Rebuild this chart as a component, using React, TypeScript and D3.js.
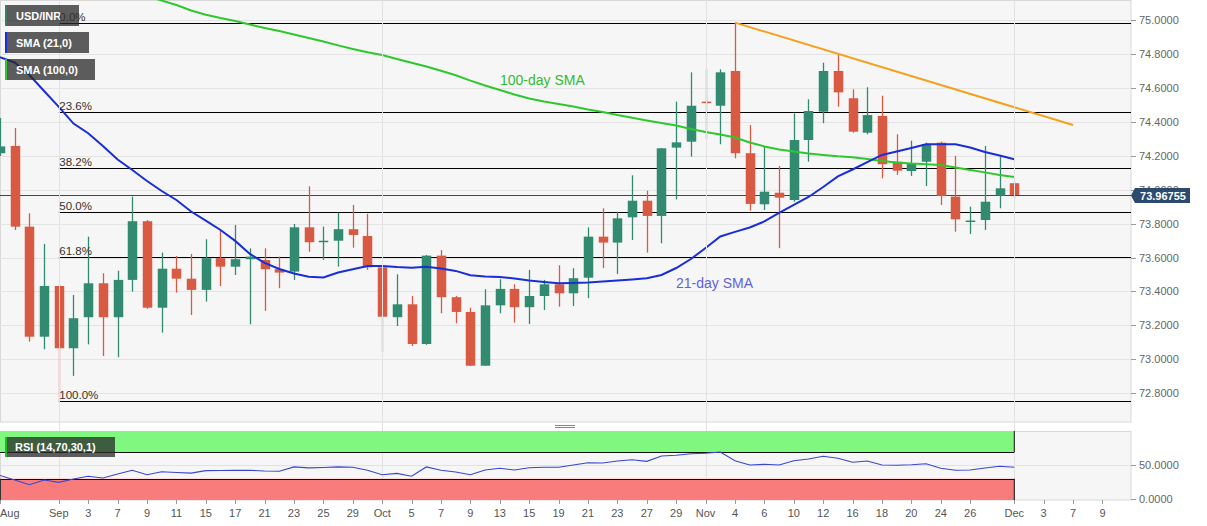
import React, { useEffect, useRef } from 'react';
import * as d3 from 'd3';

// USD/INR daily candles, 26 Aug 2020 .. 1 Dec 2020 (weekdays)
const opens = [74.215, 74.258, 73.782, 73.133, 73.432, 73.065, 73.248, 73.448, 73.248, 73.468,
    73.814, 73.304, 73.534, 73.475, 73.409, 73.596, 73.546, 73.590, 73.585, 73.531,
    73.517, 73.778, 73.690, 73.699, 73.767, 73.727, 73.542, 73.248, 73.324, 73.090,
    73.611, 73.366, 73.279, 72.962, 73.318, 73.415, 73.307, 73.373, 73.442, 73.389,
    73.481, 73.723, 73.688, 73.837, 73.935, 73.845, 74.248, 74.283, 74.519, 74.495,
    74.700, 74.215, 73.914, 73.982, 73.939, 74.293, 74.460, 74.700, 74.539, 74.336,
    74.435, 74.165, 74.110, 74.165, 74.277, 73.959, 73.810, 73.821, 73.965, 74.038];
const highs = [74.423, 74.364, 73.861, 73.680, 73.438, 73.379, 73.723, 73.507, 73.522, 73.959,
    73.821, 73.629, 73.609, 73.621, 73.708, 73.762, 73.792, 73.654, 73.654, 73.605,
    73.798, 74.020, 73.782, 73.864, 73.910, 73.857, 73.556, 73.501, 73.373, 73.615,
    73.644, 73.373, 73.304, 73.413, 73.472, 73.442, 73.527, 73.468, 73.554, 73.537,
    73.778, 73.890, 73.870, 74.085, 73.994, 74.246, 74.519, 74.692, 74.710, 74.710,
    74.985, 74.381, 74.258, 74.140, 74.450, 74.533, 74.749, 74.794, 74.592, 74.604,
    74.554, 74.327, 74.289, 74.277, 74.283, 74.200, 73.900, 74.258, 74.195, 74.047];
const lows = [74.199, 73.762, 73.104, 73.059, 72.754, 72.902, 73.088, 73.019, 73.012, 73.399,
    73.297, 73.157, 73.393, 73.261, 73.340, 73.432, 73.497, 73.206, 73.285, 73.419,
    73.468, 73.634, 73.586, 73.546, 73.658, 73.527, 73.045, 73.196, 73.078, 73.085,
    73.271, 73.212, 72.960, 72.960, 73.271, 73.216, 73.208, 73.291, 73.310, 73.314,
    73.360, 73.537, 73.503, 73.703, 73.629, 73.684, 73.943, 74.195, 74.297, 74.268,
    74.185, 73.876, 73.880, 73.655, 73.929, 74.165, 74.392, 74.489, 74.336, 74.327,
    74.067, 74.087, 74.081, 74.022, 73.910, 73.752, 73.739, 73.762, 73.890, 73.949];
const closes = [74.255, 73.782, 73.133, 73.432, 73.065, 73.242, 73.448, 73.248, 73.468, 73.814,
    73.304, 73.534, 73.475, 73.409, 73.596, 73.546, 73.590, 73.605, 73.531, 73.511,
    73.778, 73.690, 73.699, 73.767, 73.733, 73.542, 73.251, 73.324, 73.090, 73.611,
    73.366, 73.279, 72.962, 73.318, 73.415, 73.307, 73.373, 73.442, 73.389, 73.478,
    73.723, 73.688, 73.831, 73.935, 73.845, 74.244, 74.279, 74.495, 74.513, 74.692,
    74.215, 73.916, 73.988, 73.953, 74.293, 74.464, 74.700, 74.574, 74.342, 74.440,
    74.150, 74.112, 74.156, 74.268, 73.963, 73.825, 73.818, 73.929, 74.008, 73.968];

const sma21 = [74.781, 74.750, 74.676, 74.582, 74.488, 74.390, 74.333, 74.258, 74.178, 74.116,
    74.051, 73.992, 73.939, 73.871, 73.818, 73.762, 73.698, 73.621, 73.568, 73.532,
    73.506, 73.487, 73.482, 73.512, 73.531, 73.550, 73.550, 73.544, 73.540, 73.546,
    73.535, 73.521, 73.495, 73.488, 73.485, 73.476, 73.465, 73.456, 73.448, 73.450,
    73.452, 73.458, 73.464, 73.471, 73.478, 73.497, 73.538, 73.591, 73.656, 73.724,
    73.751, 73.777, 73.813, 73.863, 73.910, 73.957, 74.016, 74.078, 74.119, 74.163,
    74.205, 74.225, 74.246, 74.268, 74.268, 74.268, 74.249, 74.222, 74.202, 74.179];
const sma100 = [75.466, 75.434, 75.402, 75.366, 75.331, 75.295, 75.266, 75.233, 75.201, 75.172,
    75.142, 75.115, 75.089, 75.057, 75.032, 75.012, 74.995, 74.974, 74.953, 74.936,
    74.915, 74.894, 74.874, 74.851, 74.830, 74.810, 74.794, 74.771, 74.748, 74.726,
    74.701, 74.675, 74.643, 74.614, 74.588, 74.561, 74.538, 74.520, 74.505, 74.491,
    74.473, 74.458, 74.440, 74.424, 74.408, 74.393, 74.379, 74.358, 74.340, 74.325,
    74.308, 74.278, 74.255, 74.237, 74.225, 74.213, 74.205, 74.197, 74.191, 74.181,
    74.169, 74.160, 74.154, 74.150, 74.146, 74.131, 74.116, 74.102, 74.087, 74.075];
const rsi14 = [34.9, 28.2, 21.0, 28.2, 24.6, 29.7, 33.9, 31.3, 37.2, 42.7,
    36.0, 40.6, 39.4, 38.5, 42.3, 42.4, 42.6, 42.7, 41.7, 41.2,
    47.8, 46.3, 46.9, 47.8, 47.4, 42.7, 36.0, 38.1, 33.9, 47.8,
    42.7, 40.2, 36.0, 43.2, 45.9, 43.2, 46.5, 47.2, 47.4, 50.7,
    54.1, 53.7, 56.7, 58.5, 56.2, 64.2, 65.2, 67.6, 68.2, 70.2,
    57.1, 50.7, 51.7, 50.7, 57.1, 59.7, 63.7, 60.7, 54.7, 56.7,
    50.7, 50.2, 51.1, 52.6, 45.7, 42.7, 43.2, 46.2, 48.7, 47.2];

const xTickDates = ['2020-08-26', '2020-09-01', '2020-09-03', '2020-09-07', '2020-09-09', '2020-09-11',
    '2020-09-15', '2020-09-17', '2020-09-21', '2020-09-23', '2020-09-25', '2020-09-29', '2020-10-01',
    '2020-10-05', '2020-10-07', '2020-10-09', '2020-10-13', '2020-10-15', '2020-10-19', '2020-10-21',
    '2020-10-23', '2020-10-27', '2020-10-29', '2020-11-02', '2020-11-04', '2020-11-06', '2020-11-10',
    '2020-11-12', '2020-11-16', '2020-11-18', '2020-11-20', '2020-11-24', '2020-11-26', '2020-12-01',
    '2020-12-03', '2020-12-07', '2020-12-09'];
const xTickLabels = ['Aug', 'Sep', '3', '7', '9', '11', '15', '17', '21', '23', '25', '29', 'Oct',
    '5', '7', '9', '13', '15', '19', '21', '23', '27', '29', 'Nov', '4', '6', '10', '12', '16', '18',
    '20', '24', '26', 'Dec', '3', '7', '9'];
const monthStarts = ['2020-09-01', '2020-10-01', '2020-11-02', '2020-12-01'];

const fibRatios = [0, 0.236, 0.382, 0.5, 0.618, 1];
const fibLabels = ['0.0%', '23.6%', '38.2%', '50.0%', '61.8%', '100.0%'];
const fibHigh = 74.981;
const fibLow = 72.754;
const fibStart = '2020-09-01';

const trendDates = ['2020-11-04', '2020-12-07'];
const trendValues = [74.985, 74.381];
const lastPrice = 73.96755;

const W = 1207;
const H = 526;
const FONT = "'Liberation Sans', Arial, sans-serif";

export default function App() {
    const ref = useRef<SVGSVGElement>(null);

    useEffect(() => {
        const svg = d3.select(ref.current);
        svg.selectAll('*').remove();

        const fmt = d3.timeFormat('%Y-%m-%d');
        const days = d3.timeDay.range(new Date(2020, 7, 26), new Date(2020, 11, 12))
            .filter(d => d.getDay() !== 0 && d.getDay() !== 6)
            .map(fmt);
        const idx = (s: string) => days.indexOf(s);

        const plotR = 1131;
        const mainB = 422;
        const rsiT = 431;
        const rsiB = 500;

        const x = d3.scaleLinear().domain([0, 76.94]).range([0, plotR]);
        const y = d3.scaleLinear().domain([72.630, 75.1185]).range([mainB, 0]);
        const yr = d3.scaleLinear().domain([0, 100]).range([498.8, 432.1]);

        const defs = svg.append('defs');
        defs.append('clipPath').attr('id', 'clipMain')
            .append('rect').attr('x', 0).attr('y', 0).attr('width', plotR).attr('height', mainB);
        defs.append('clipPath').attr('id', 'clipRsi')
            .append('rect').attr('x', 0).attr('y', rsiT).attr('width', plotR).attr('height', rsiB - rsiT);

        // panels
        svg.append('rect').attr('x', 0.5).attr('y', 0.5).attr('width', plotR - 0.5).attr('height', mainB - 0.5)
            .attr('fill', '#f6f6f6').attr('stroke', '#d8d8d8');
        svg.append('rect').attr('x', 0.5).attr('y', rsiT + 0.5).attr('width', plotR - 0.5).attr('height', rsiB - rsiT - 0.5)
            .attr('fill', '#f6f6f6').attr('stroke', '#d8d8d8');

        const main = svg.append('g').attr('clip-path', 'url(#clipMain)');
        const priceTicks = y.ticks(12);

        main.selectAll('.hgrid').data(priceTicks).enter().append('line')
            .attr('x1', 0).attr('x2', plotR)
            .attr('y1', d => Math.round(y(d)) + 0.5).attr('y2', d => Math.round(y(d)) + 0.5)
            .attr('stroke', '#e4e4e4');

        svg.selectAll('.vgrid').data(monthStarts).enter().append('line')
            .attr('x1', d => Math.round(x(idx(d))) + 0.5).attr('x2', d => Math.round(x(idx(d))) + 0.5)
            .attr('y1', 0).attr('y2', rsiB)
            .attr('stroke', '#e2e2e2');

        // fibonacci retracement lines
        const fibVal = (r: number) => fibHigh - (fibHigh - fibLow) * r;
        main.selectAll('.fib').data(fibRatios).enter().append('line')
            .attr('x1', x(idx(fibStart))).attr('x2', plotR)
            .attr('y1', d => Math.round(y(fibVal(d))) + 0.5).attr('y2', d => Math.round(y(fibVal(d))) + 0.5)
            .attr('stroke', '#000').attr('stroke-width', 1.2);

        // last price line
        main.append('line').attr('x1', 0).attr('x2', plotR)
            .attr('y1', Math.round(y(lastPrice)) + 0.5).attr('y2', Math.round(y(lastPrice)) + 0.5)
            .attr('stroke', '#2c4a6b').attr('stroke-width', 1);

        // candles
        const bodyW = 9.5;
        const green = '#328a70';
        const red = '#d95a43';
        const candles = opens.map((o, i) => ({ i, o, h: highs[i], l: lows[i], c: closes[i] }));
        const cg = main.selectAll('.candle').data(candles).enter().append('g');
        cg.append('line')
            .attr('x1', d => Math.round(x(d.i)) + 0.5).attr('x2', d => Math.round(x(d.i)) + 0.5)
            .attr('y1', d => y(d.h)).attr('y2', d => y(d.l))
            .attr('stroke', d => (d.c >= d.o ? green : red)).attr('stroke-width', 1.3);
        cg.append('rect')
            .attr('x', d => Math.round(x(d.i)) + 0.5 - bodyW / 2)
            .attr('width', bodyW)
            .attr('y', d => y(Math.max(d.o, d.c)))
            .attr('height', d => Math.max(1.5, Math.abs(y(d.o) - y(d.c))))
            .attr('fill', d => (d.c >= d.o ? green : red));

        // moving averages
        const line = d3.line<number>().x((_, i) => x(i)).y(d => y(d)).curve(d3.curveLinear);
        main.append('path').datum(sma100).attr('d', line)
            .attr('fill', 'none').attr('stroke', '#2ec82e').attr('stroke-width', 2);
        main.append('path').datum(sma21).attr('d', line)
            .attr('fill', 'none').attr('stroke', '#1a2ed8').attr('stroke-width', 2);

        // falling trend line
        main.append('line')
            .attr('x1', x(idx(trendDates[0]))).attr('y1', y(trendValues[0]))
            .attr('x2', x(idx(trendDates[1]))).attr('y2', y(trendValues[1]))
            .attr('stroke', '#f5a01e').attr('stroke-width', 2);

        // annotations
        svg.append('text').attr('x', 500).attr('y', 84.5).text('100-day SMA')
            .attr('font-family', FONT).attr('font-size', 14).attr('fill', '#33bb33');
        svg.append('text').attr('x', 676).attr('y', 288).text('21-day SMA')
            .attr('font-family', FONT).attr('font-size', 14).attr('fill', '#6262dc');

        // legend boxes
        const legends = [
            { label: 'USD/INR', y: 5, w: 74, color: '#3c7a6c' },
            { label: 'SMA (21,0)', y: 32, w: 84, color: '#1a2ed8' },
            { label: 'SMA (100,0)', y: 59, w: 90, color: '#2ec82e' },
        ];
        const lg = svg.selectAll('.legend').data(legends).enter().append('g');
        lg.append('rect').attr('x', 5).attr('y', d => d.y).attr('width', d => d.w).attr('height', 21)
            .attr('fill', 'rgba(40,40,40,0.75)');
        lg.append('rect').attr('x', 5).attr('y', d => d.y).attr('width', 2).attr('height', 21)
            .attr('fill', d => d.color);
        lg.append('text').attr('x', 16).attr('y', d => d.y + 14.5).text(d => d.label)
            .attr('font-family', FONT).attr('font-size', 11).attr('font-weight', 'bold').attr('fill', '#fff');

        // fib labels
        svg.selectAll('.fibLabel').data(fibRatios).enter().append('text')
            .attr('x', x(idx(fibStart)) + 0.5)
            .attr('y', d => Math.round(y(fibVal(d))) - 2)
            .text((_, i) => fibLabels[i])
            .attr('font-family', FONT).attr('font-size', 11.5).attr('fill', '#333');

        // price axis
        const ya = svg.append('g');
        ya.selectAll('line').data(priceTicks).enter().append('line')
            .attr('x1', plotR).attr('x2', plotR + 5)
            .attr('y1', d => Math.round(y(d)) + 0.5).attr('y2', d => Math.round(y(d)) + 0.5)
            .attr('stroke', '#999');
        ya.selectAll('text').data(priceTicks).enter().append('text')
            .attr('x', plotR + 8).attr('y', d => y(d) + 4)
            .text(d => d3.format('.4f')(d))
            .attr('font-family', FONT).attr('font-size', 11).attr('fill', '#666');

        // last price marker
        const py = Math.round(y(lastPrice)) + 0.5;
        svg.append('path')
            .attr('d', `M${plotR},${py} L${plotR + 4},${py - 7.5} L${plotR + 59},${py - 7.5} L${plotR + 59},${py + 7.5} L${plotR + 4},${py + 7.5} Z`)
            .attr('fill', '#2b4a6e');
        svg.append('text').attr('x', plotR + 32).attr('y', py + 4).attr('text-anchor', 'middle')
            .text(d3.format('.5f')(lastPrice))
            .attr('font-family', FONT).attr('font-size', 11).attr('font-weight', 'bold').attr('fill', '#fff');

        // panel separator handle
        svg.append('line').attr('x1', 555).attr('x2', 575).attr('y1', 425.5).attr('y2', 425.5).attr('stroke', '#888');
        svg.append('line').attr('x1', 555).attr('x2', 575).attr('y1', 427.5).attr('y2', 427.5).attr('stroke', '#888');

        // RSI panel
        const rp = svg.append('g').attr('clip-path', 'url(#clipRsi)');
        const bandR = x(opens.length - 1);
        rp.append('line').attr('x1', 0).attr('x2', plotR).attr('y1', Math.round(yr(50)) + 0.5).attr('y2', Math.round(yr(50)) + 0.5)
            .attr('stroke', '#e2e2e2');
        rp.append('rect').attr('x', 0).attr('y', yr(100) - 2).attr('width', bandR).attr('height', yr(70) - yr(100) + 2)
            .attr('fill', '#80f880');
        rp.append('rect').attr('x', 0).attr('y', yr(30)).attr('width', bandR).attr('height', yr(0) - yr(30) + 2)
            .attr('fill', '#f87c7c');
        [70, 30].forEach(v => {
            rp.append('line').attr('x1', 0).attr('x2', bandR).attr('y1', Math.round(yr(v)) + 0.5).attr('y2', Math.round(yr(v)) + 0.5)
                .attr('stroke', '#111');
        });
        rp.append('line').attr('x1', bandR).attr('x2', bandR).attr('y1', yr(100) - 2).attr('y2', yr(70)).attr('stroke', '#111');
        rp.append('line').attr('x1', bandR).attr('x2', bandR).attr('y1', yr(30)).attr('y2', yr(0) + 2).attr('stroke', '#111');
        rp.append('line').attr('x1', 0.5).attr('x2', 0.5).attr('y1', yr(30)).attr('y2', yr(0) + 2).attr('stroke', '#333');

        const rline = d3.line<number>().x((_, i) => x(i)).y(d => yr(d));
        rp.append('path').datum(rsi14).attr('d', rline)
            .attr('fill', 'none').attr('stroke', '#3a46d0').attr('stroke-width', 1.1);

        svg.append('rect').attr('x', 5).attr('y', 437).attr('width', 110).attr('height', 20).attr('fill', 'rgba(40,40,40,0.75)');
        svg.append('rect').attr('x', 5).attr('y', 437).attr('width', 2).attr('height', 20).attr('fill', '#22bb22');
        svg.append('text').attr('x', 15).attr('y', 451).text('RSI (14,70,30,1)')
            .attr('font-family', FONT).attr('font-size', 11).attr('font-weight', 'bold').attr('fill', '#fff');

        const rsiTicks = [50, 0];
        svg.selectAll('.rtick').data(rsiTicks).enter().append('line')
            .attr('x1', plotR).attr('x2', plotR + 5)
            .attr('y1', d => Math.round(yr(d)) + 0.5).attr('y2', d => Math.round(yr(d)) + 0.5)
            .attr('stroke', '#999');
        svg.selectAll('.rlabel').data(rsiTicks).enter().append('text')
            .attr('x', plotR + 8).attr('y', d => yr(d) + 4)
            .text(d => d3.format('.4f')(d))
            .attr('font-family', FONT).attr('font-size', 11).attr('fill', '#666');

        // date axis
        const xt = xTickDates.map((d, i) => ({ pos: x(idx(d)), label: xTickLabels[i] }));
        svg.selectAll('.xtick').data(xt).enter().append('line')
            .attr('x1', d => Math.round(d.pos) + 0.5).attr('x2', d => Math.round(d.pos) + 0.5)
            .attr('y1', rsiB).attr('y2', rsiB + 4).attr('stroke', '#999');
        svg.selectAll('.xlabel').data(xt).enter().append('text')
            .attr('x', d => (d.label === 'Aug' ? 0 : d.pos))
            .attr('y', 517)
            .attr('text-anchor', d => (d.label === 'Aug' ? 'start' : 'middle'))
            .text(d => d.label)
            .attr('font-family', FONT).attr('font-size', 11).attr('fill', '#555');
    }, []);

    return (
        <div style={{ position: 'absolute', left: 0, top: 0 }}>
            <svg ref={ref} width={W} height={H} style={{ display: 'block', background: '#fff' }} />
        </div>
    );
}
